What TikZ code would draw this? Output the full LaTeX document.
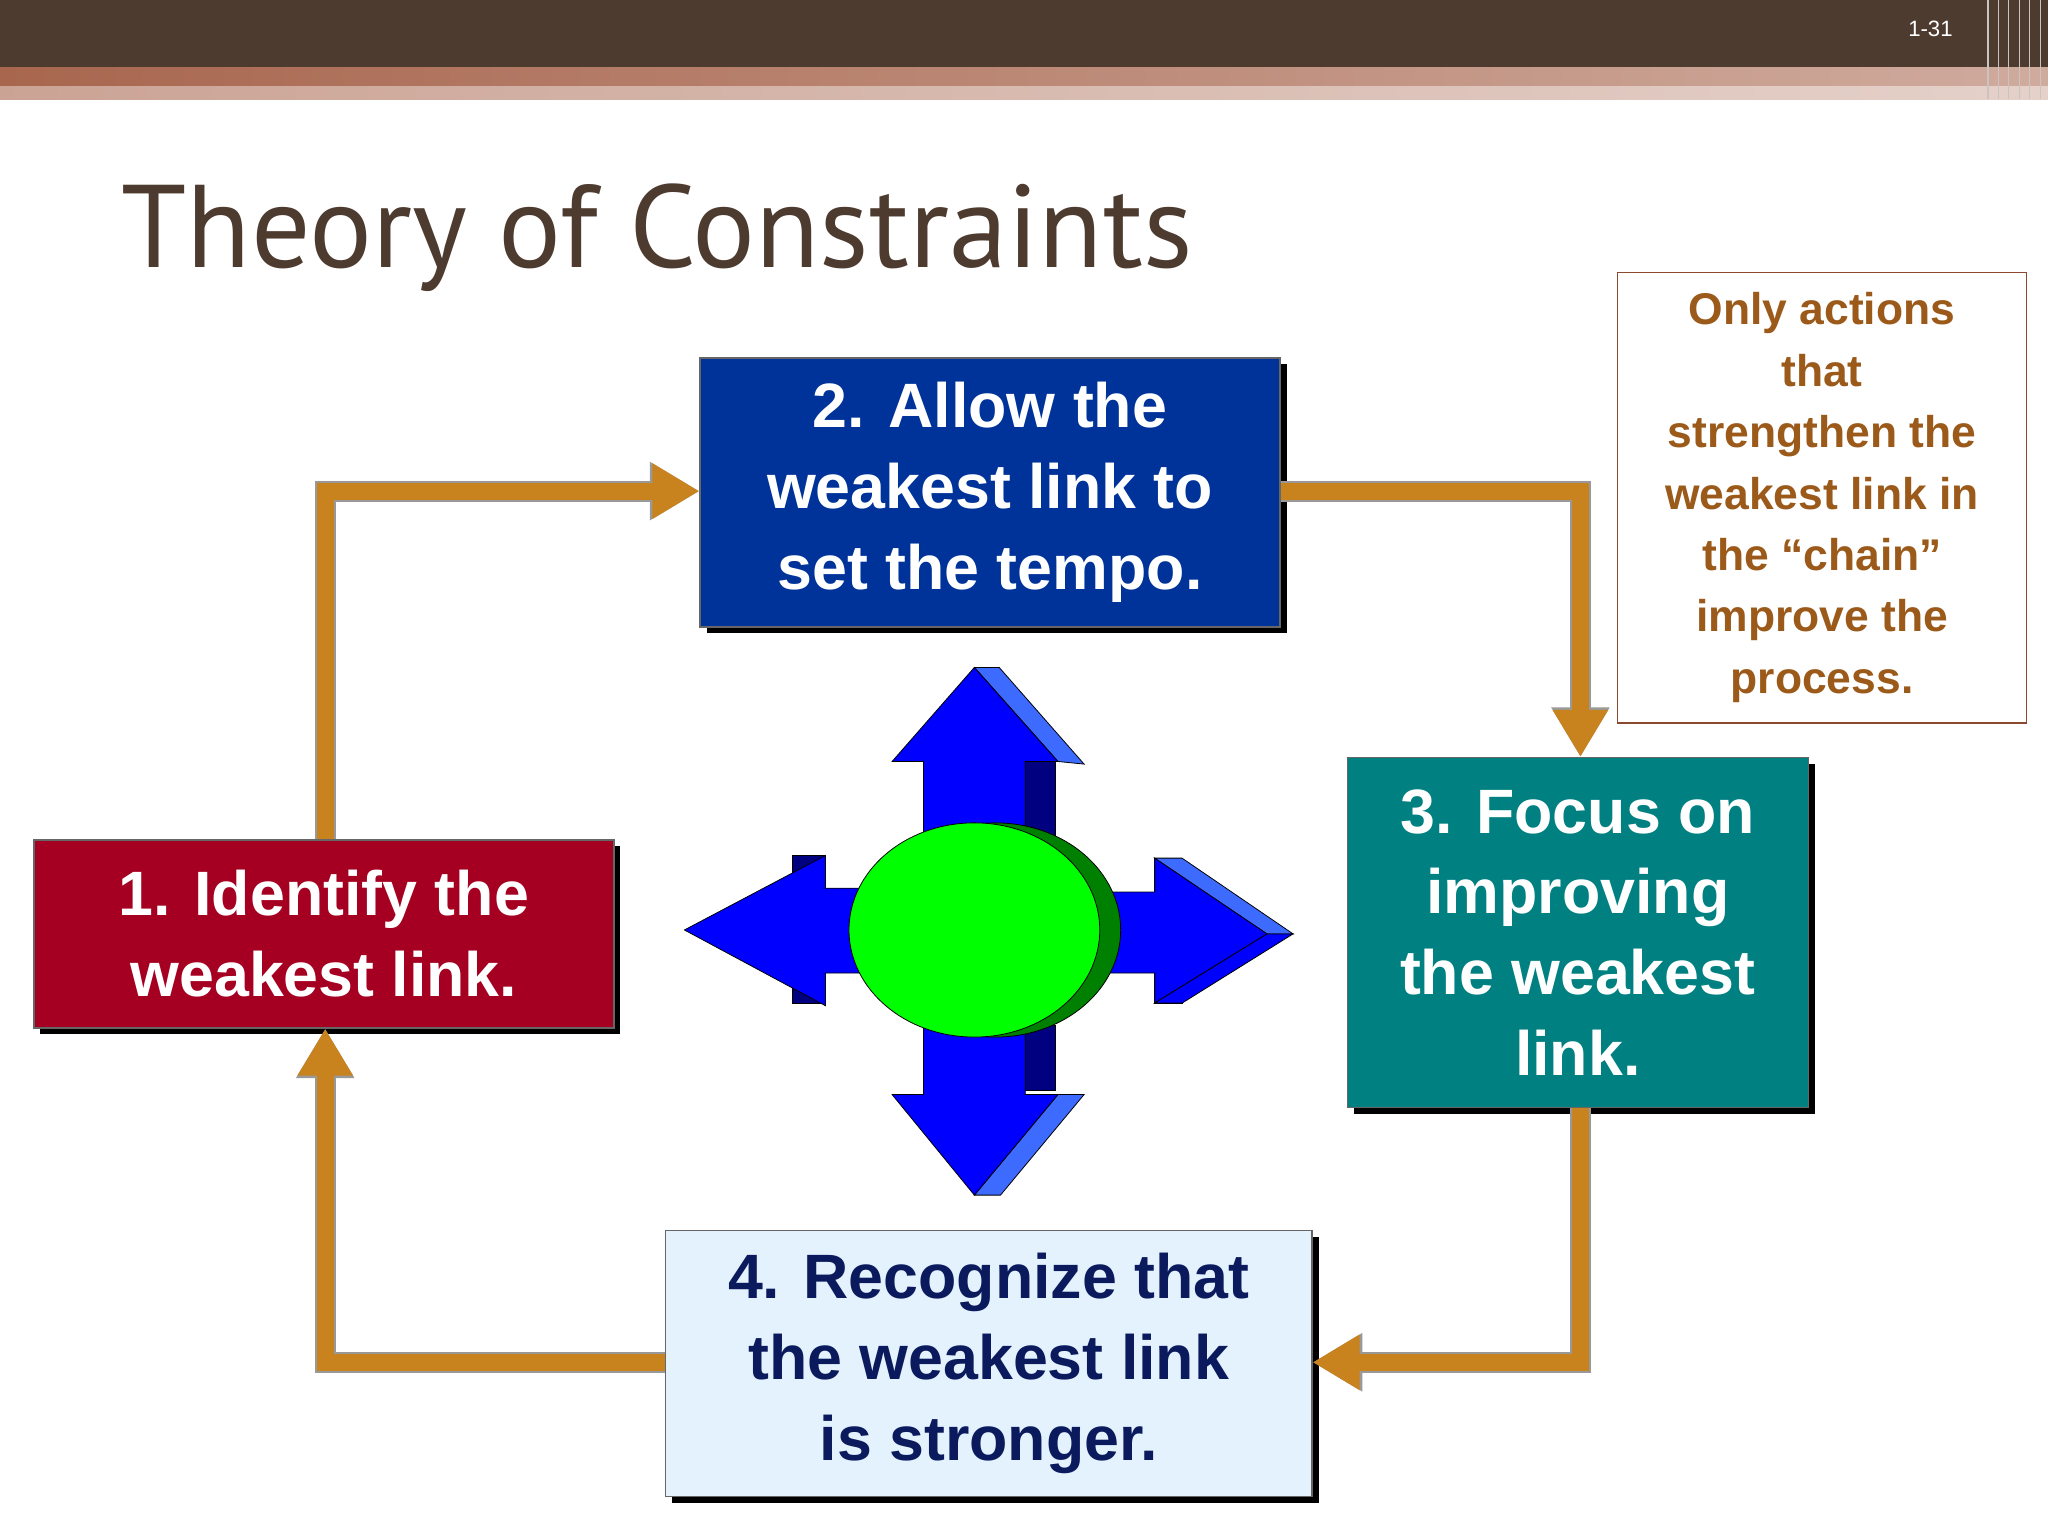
\documentclass[tikz,border=0pt]{standalone}
\usepackage{fontspec}
\setmainfont{Liberation Sans}
\newfontfamily\titlefont{PT Sans}
\usetikzlibrary{arrows.meta,shadows}
\definecolor{barbrown}{HTML}{4E3B30}
\definecolor{stripe}{HTML}{A8664E}
\definecolor{boxblue}{HTML}{003399}
\definecolor{boxred}{HTML}{A50021}
\definecolor{boxteal}{HTML}{008080}
\definecolor{boxlight}{HTML}{E3F2FD}
\definecolor{navytext}{HTML}{0A1A5C}
\definecolor{flow}{HTML}{C8821E}
\definecolor{notetext}{HTML}{9B5A1A}
\definecolor{noteborder}{HTML}{8B4A30}
\definecolor{litblue}{HTML}{3D6BFF}
\tikzset{
 stepbox/.style={draw=black!60,line width=1pt,minimum width=#1,align=center,font=\bfseries\fontsize{48}{62}\selectfont,
   drop shadow={shadow xshift=5pt,shadow yshift=-5pt,fill=black,opacity=1}},
 flowline/.style={draw=black!40,line width=16pt,-{Triangle[length=38pt,width=42pt]}},
 flowin/.style={draw=flow,line width=13pt,-{Triangle[length=36pt,width=40pt]}}
}
\begin{document}
\begin{tikzpicture}[x=1pt,y=-1pt]
\useasboundingbox (0,0) rectangle (1568,1176);
\fill[white] (0,0) rectangle (1568,1176);
% top bar
\fill[barbrown] (0,0) rectangle (1568,52);
\shade[left color=stripe,right color=stripe!55] (0,52) rectangle (1568,66);
\shade[left color=stripe!60,right color=stripe!30] (0,66) rectangle (1568,76);
\foreach \x in {1522,1530,1538,1546,1554,1562}{\draw[white!70!barbrown,line width=1pt] (\x,0) -- (\x,76);}
\node[text=white,font=\fontsize{17}{20}\selectfont] (pg) at (1478,22) {1-31};
\node[anchor=base west,text=barbrown,font=\titlefont\fontsize{90}{100}\selectfont,inner sep=0] (title) at (93,205) {Theory of Constraints};
% boxes
\node[stepbox=444pt,minimum height=206pt,fill=boxblue,text=white] (b2) at (758,377) {2. Allow the\\weakest link to\\set the tempo.};
\node[stepbox=444pt,minimum height=144pt,fill=boxred,text=white] (b1) at (248,715) {1. Identify the\\weakest link.};
\node[stepbox=353pt,minimum height=268pt,fill=boxteal,text=white] (b3) at (1208,714) {3. Focus on\\improving\\the weakest\\link.};
\node[stepbox=495pt,minimum height=204pt,fill=boxlight,text=navytext] (b4) at (757,1044) {4. Recognize that\\the weakest link\\is stronger.};
\node[draw=noteborder,line width=1pt,minimum width=313pt,minimum height=345pt,align=center,text=notetext,font=\bfseries\fontsize{34}{47}\selectfont] (note) at (1395,381) {Only actions\\that\\strengthen the\\weakest link in\\the “chain”\\improve the\\process.};
% connectors
\coordinate (c1) at (249,376); \coordinate (c2) at (1210,376);
\coordinate (c3) at (1210,1043); \coordinate (c4) at (249,1043);
\foreach \s in {flowline,flowin}{
\draw[\s] (b1.north -| c1) -- (c1) -- (b2.west |- c1);
\draw[\s] (b2.east |- c2) -- (c2) -- (b3.north -| c2);
\draw[\s] (b3.south -| c3) -- (c3) -- (b4.east |- c3);
\draw[\s] (b4.west |- c4) -- (c4) -- (b1.south -| c4);
}
% centre figure
\begin{scope}[draw=black,line width=0.6pt]
% dark side pieces
\fill[fill=blue!50!black,draw=black] (785,583) rectangle (808,640);
\fill[fill=blue!50!black,draw=black] (785,785) rectangle (808,835);
\fill[fill=blue!50!black,draw=black] (607,655) rectangle (632,680);
\fill[fill=blue!50!black,draw=black] (607,745) rectangle (632,768);
\fill[fill=blue!50!black,draw=black] (884,745) rectangle (905,768);
% light 3D faces
\filldraw[fill=litblue] (746,511) -- (765,511) -- (830,585) -- (810,583) -- cycle;
\filldraw[fill=litblue] (810,838) -- (830,838) -- (766,915) -- (746,915) -- cycle;
\filldraw[fill=litblue] (884,657) -- (905,657) -- (990,715) -- (970,715) -- cycle;
% blue arrows
\filldraw[fill=blue] (746,511) -- (810,583) -- (785,583) -- (785,700) -- (707,700) -- (707,583) -- (683,583) -- cycle;
\filldraw[fill=blue] (746,915) -- (683,838) -- (707,838) -- (707,720) -- (785,720) -- (785,838) -- (810,838) -- cycle;
\filldraw[fill=blue] (524,712) -- (632,655) -- (632,680) -- (740,680) -- (740,745) -- (632,745) -- (632,770) -- cycle;
\filldraw[fill=blue] (970,715) -- (884,657) -- (884,683) -- (760,683) -- (760,745) -- (884,745) -- (884,768) -- cycle;
\filldraw[fill=blue] (970,715) -- (990,715) -- (905,768) -- (884,768) -- cycle;
% ellipses
\filldraw[fill=green!50!black] (762,712) ellipse (96 and 82);
\filldraw[fill=green] (746,712) ellipse (96 and 82);
\end{scope}
\end{tikzpicture}
\end{document}
